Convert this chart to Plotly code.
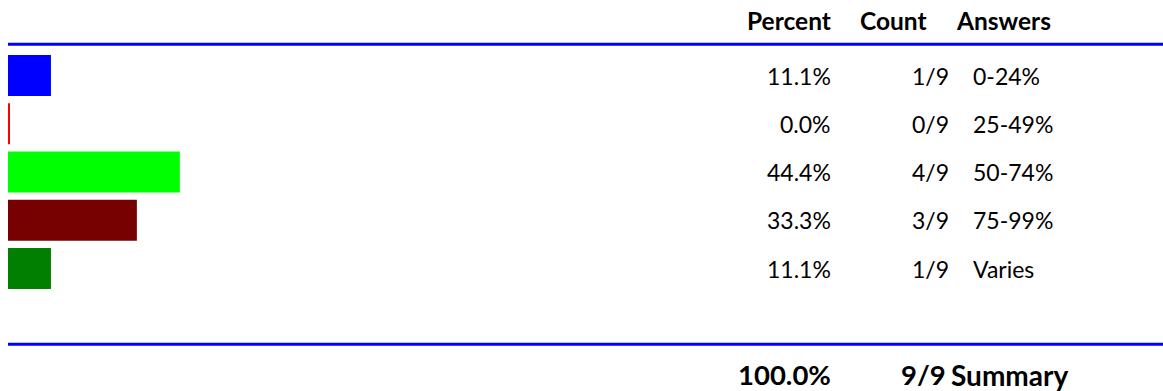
import plotly.graph_objects as go

answers = ["0-24%", "25-49%", "50-74%", "75-99%", "Varies"]
percents = [11.1, 0.0, 44.4, 33.3, 11.1]
counts = ["1/9", "0/9", "4/9", "3/9", "1/9"]
colors = ["#0000FF", "#FF0000", "#00FF00", "#770000", "#007F00"]
headers = ["Percent", "Count", "Answers"]
total_percent = "100.0%"
total_count = "9/9"
summary_label = "Summary"

W, H = 1163, 391
LEFT = 8
FONT = "Lato"
fs_row = 23
fs_head = 24.5
fs_sum = 27.5
fs_sum_label = 28
PAD = 2  # horizontal text inset of plotly annotations

fig = go.Figure()
fig.add_trace(go.Bar(
    x=percents, y=answers, orientation="h",
    marker=dict(color=colors, line=dict(width=0)),
    width=0.85, hoverinfo="skip", showlegend=False,
))
# thin sliver so that a 0% bar stays visible (only shown for zero values)
fig.add_trace(go.Scatter(
    x=percents, y=answers, mode="markers",
    marker=dict(symbol="line-ns", size=29.3, color=colors,
                opacity=[1 if p == 0 else 0 for p in percents],
                line=dict(width=4, color=colors)),
    hoverinfo="skip", showlegend=False, cliponaxis=True,
))

px_per_pct = 3.87
xr = [0, (W - LEFT) / px_per_pct]

pitch = 48.25
top_c = 75.5
y_top = -top_c / pitch
y_bot = y_top + H / pitch


def px(xp):
    return (xp - LEFT) / (W - LEFT)


def py(yp):
    return 1 - yp / H


def txt(x, y, text, anchor, size, yref="paper"):
    xx = x + PAD if anchor == "right" else x - PAD
    return dict(x=px(xx), y=y, xref="paper", yref=yref, text=text,
                xanchor=anchor, yanchor="middle", showarrow=False, borderpad=0,
                font=dict(family=FONT, size=size, color="#000"))


ann = []
for a, p, c in zip(answers, percents, counts):
    ann.append(txt(830, a, f"{p:.1f}%", "right", fs_row, "y"))
    ann.append(txt(948, a, c, "right", fs_row, "y"))
    ann.append(txt(974, a, a, "left", fs_row, "y"))

hy = py(20.5)
ann.append(txt(830, hy, f"<b>{headers[0]}</b>", "right", fs_head))
ann.append(txt(861, hy, f"<b>{headers[1]}</b>", "left", fs_head))
ann.append(txt(957, hy, f"<b>{headers[2]}</b>", "left", fs_head))

sy = py(374.5)
ann.append(txt(830, sy, f"<b>{total_percent}</b>", "right", fs_sum))
ann.append(txt(902, sy, f"<b>{total_count}</b>", "left", fs_sum))
ann.append(txt(952, sy, f"<b>{summary_label}</b>", "left", fs_sum_label))

shapes = [
    dict(type="line", xref="paper", yref="paper", x0=0, x1=1,
         y0=py(44.3), y1=py(44.3), line=dict(color="#0000FF", width=3)),
    dict(type="line", xref="paper", yref="paper", x0=0, x1=1,
         y0=py(344.3), y1=py(344.3), line=dict(color="#0000FF", width=3)),
]

fig.update_layout(
    width=W, height=H,
    margin=dict(l=LEFT, r=0, t=0, b=0, pad=0),
    paper_bgcolor="white", plot_bgcolor="white",
    xaxis=dict(range=xr, visible=False, fixedrange=True),
    yaxis=dict(range=[y_bot, y_top], visible=False, fixedrange=True,
               categoryorder="array", categoryarray=answers),
    annotations=ann, shapes=shapes,
    bargap=0.15,
)

fig.write_html("out.html", config={"displayModeBar": False, "staticPlot": True},
               post_script="document.body.style.margin='0';document.body.style.overflow='hidden';")
